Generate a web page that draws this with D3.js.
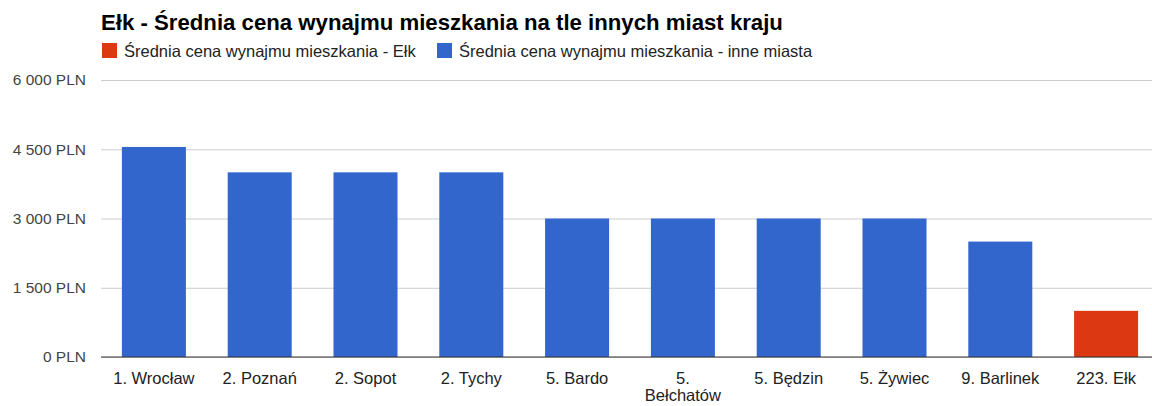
<!DOCTYPE html>
<html>
<head>
<meta charset="utf-8">
<script src="https://cdn.jsdelivr.net/npm/d3@7"></script>
<style>
  body { margin: 0; background: #fff; }
  svg { font-family: "Liberation Sans", Arial, sans-serif; }
</style>
</head>
<body>
<script>
// chart data
const cities = ["1. Wrocław", "2. Poznań", "2. Sopot", "2. Tychy", "5. Bardo",
  "5. Bełchatów", "5. Będzin", "5. Żywiec", "9. Barlinek", "223. Ełk"];
const prices = [4550, 4000, 4000, 4000, 3000, 3000, 3000, 3000, 2500, 1000];
const highlighted = ["223. Ełk"];
const yTicks = [0, 1500, 3000, 4500, 6000];
const seriesNames = ["Średnia cena wynajmu mieszkania - Ełk", "Średnia cena wynajmu mieszkania - inne miasta"];

const WIDTH = 1152;
const HEIGHT = 406;
const PLOT_LEFT = 101;
const PLOT_RIGHT = 1159;
const PLOT_TOP = 80;
const PLOT_BOTTOM = 357;
const RED = "#dc3912";
const BLUE = "#3366cc";

const svg = d3.select("body").append("svg")
  .attr("width", WIDTH)
  .attr("height", HEIGHT);

const x = d3.scaleBand()
  .domain(cities)
  .range([PLOT_LEFT, PLOT_RIGHT])
  .paddingInner(0.395)
  .paddingOuter(0.1975);

const y = d3.scaleLinear()
  .domain([0, 6000])
  .range([PLOT_BOTTOM, PLOT_TOP]);

const fmt = v => d3.format(",")(v).replace(/,/g, " ") + " PLN";

// gridlines + y labels
const yAxis = svg.append("g")
  .attr("transform", `translate(${PLOT_LEFT},0)`)
  .call(d3.axisLeft(y).tickValues(yTicks).tickSize(-(PLOT_RIGHT - PLOT_LEFT)).tickPadding(15).tickFormat(fmt));
yAxis.select(".domain").remove();
yAxis.selectAll("line").attr("stroke", "#ccc");
yAxis.selectAll("text")
  .attr("fill", "#444")
  .style("font-size", "15.5px");

// bars
svg.append("g").selectAll("rect")
  .data(cities)
  .enter().append("rect")
  .attr("x", d => x(d))
  .attr("y", (d, i) => y(prices[i]))
  .attr("width", x.bandwidth())
  .attr("height", (d, i) => y(0) - y(prices[i]))
  .attr("fill", d => highlighted.includes(d) ? RED : BLUE);

// baseline
svg.append("line")
  .attr("x1", PLOT_LEFT).attr("x2", PLOT_RIGHT)
  .attr("y1", y(0)).attr("y2", y(0))
  .attr("stroke", "#333");

// x labels, wrap long ones onto two lines
const xLabels = svg.append("g").selectAll("text")
  .data(cities)
  .enter().append("text")
  .attr("x", d => x(d) + x.bandwidth() / 2)
  .attr("y", 384)
  .attr("text-anchor", "middle")
  .attr("fill", "#222")
  .style("font-size", "16.5px");
xLabels.each(function(d) {
  const t = d3.select(this);
  const parts = d.split(" ");
  if (d.length > 11) {
    t.append("tspan").attr("x", t.attr("x")).text(parts[0]);
    t.append("tspan").attr("x", t.attr("x")).attr("dy", 17).text(parts.slice(1).join(" "));
  } else {
    t.text(d);
  }
});

// title
svg.append("text")
  .attr("x", 101)
  .attr("y", 30)
  .attr("fill", "#000")
  .style("font-size", "22.2px")
  .style("font-weight", "bold")
  .text("Ełk - Średnia cena wynajmu mieszkania na tle innych miast kraju");

// legend
const legendX = [102, 437];
const legend = svg.append("g").selectAll("g")
  .data(seriesNames)
  .enter().append("g")
  .attr("transform", (d, i) => `translate(${legendX[i]},43)`);
legend.append("rect")
  .attr("width", 15)
  .attr("height", 15)
  .attr("fill", (d, i) => i === 0 ? RED : BLUE);
legend.append("text")
  .attr("x", 22)
  .attr("y", 14)
  .attr("fill", "#222")
  .style("font-size", "16.5px")
  .text(d => d);
</script>
</body>
</html>
